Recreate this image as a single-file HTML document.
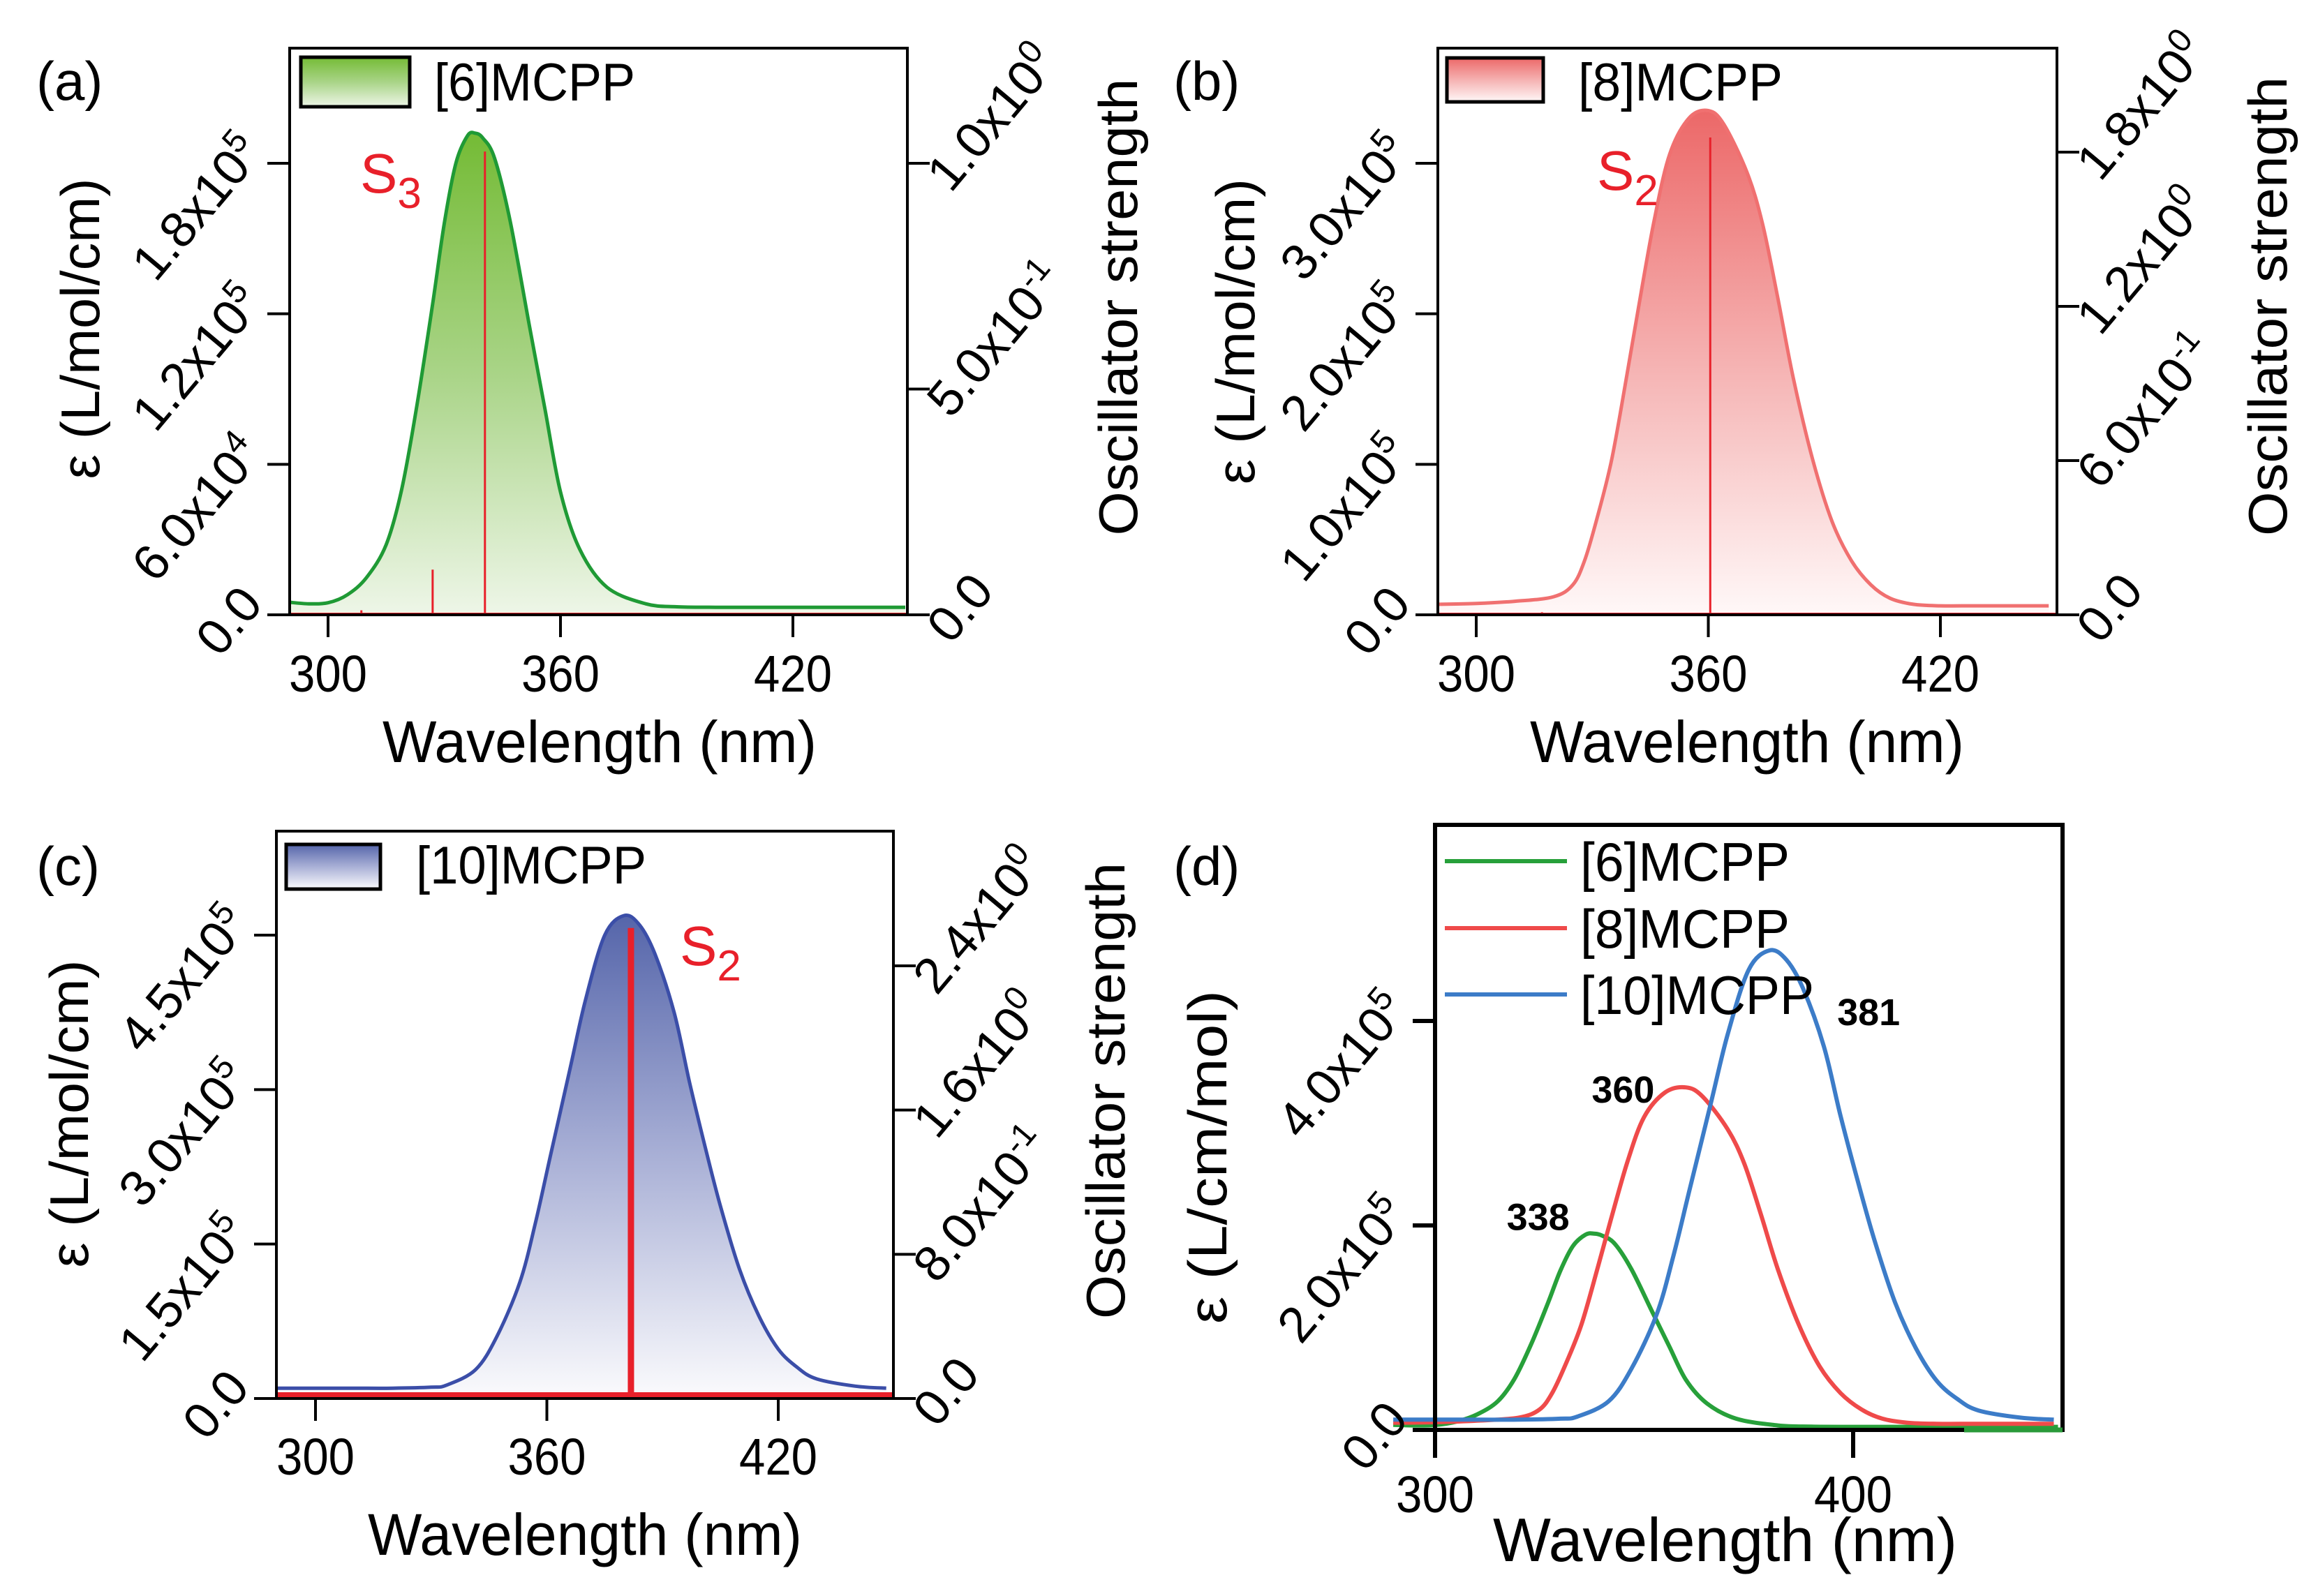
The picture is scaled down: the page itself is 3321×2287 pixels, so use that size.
<!DOCTYPE html>
<html><head><meta charset="utf-8"><title>MCPP absorption spectra</title>
<style>
html,body{margin:0;padding:0;background:#fff;}
svg{display:block;font-family:"Liberation Sans",Arial,sans-serif;}
</style></head>
<body>
<svg id="fig" width="3321" height="2287" viewBox="0 0 3321 2287" xmlns="http://www.w3.org/2000/svg">
<defs>
<linearGradient id="gGreen" x1="0" y1="0" x2="0" y2="1"><stop offset="0" stop-color="#74bb35"/><stop offset="0.5" stop-color="#a9d487"/><stop offset="1" stop-color="#eef6e8"/></linearGradient>
<linearGradient id="gRed" x1="0" y1="0" x2="0" y2="1"><stop offset="0" stop-color="#ec6868"/><stop offset="0.55" stop-color="#f6b9b9"/><stop offset="1" stop-color="#fff8f8"/></linearGradient>
<linearGradient id="gBlue" x1="0" y1="0" x2="0" y2="1"><stop offset="0" stop-color="#5565aa"/><stop offset="0.5" stop-color="#a9b0d6"/><stop offset="1" stop-color="#fbfbfd"/></linearGradient>
</defs>
</svg>
<script>
// ---- data (wavelength nm, epsilon L/mol/cm) ----
const nm6 = [290,295,300,305,310,315,319,323,327,330,333,336,338,340,343,347,352,356,360,365,372,382,390,400,420,449];
const eps6 = [5000,4400,4800,8000,15000,28000,50000,84000,124000,156000,180000,191000,192000,190000,182000,157000,115000,82000,49000,26000,11000,4400,3200,3000,3000,3000];
const nm8 = [290,300,310,320,325,328,331,335,339,342,346,350,355,360,364,370,374,378,382,387,392,397,402,407,413,420,430,448];
const eps8 = [7000,7500,9000,12000,20000,36000,62000,103000,160000,205000,262000,306000,330000,335000,326000,294000,260000,210000,157000,103000,62000,36000,20000,11000,7000,6000,6000,6000];
const nm10 = [290,300,310,320,330,334,341.5,347,353,357,361,366,370,375,380,384,388,393,397,401,405,410,415,420,425,430,440,448];
const eps10 = [10000,10000,10000,10000,11000,13000,28000,60000,113000,170000,237000,320000,387000,450000,469000,460000,432000,375000,307000,245000,187000,125000,80000,48000,30000,19000,12000,10000];
// oscillator strengths (TD-DFT sticks)
const stickNm6 = [308.6,327,340.5];
const stickF6 = [0.01,0.10,1.026];
const stickNm8 = [317,360.5];
const stickF8 = [0.01,1.857];
const stickNm10 = [381.8];
const stickF10 = [2.61];
// ticks
const xTicksABC = [300,360,420];
const xTicksD = [300,400];
const yTicksA = [0,60000,120000,180000];
const yLabelsA = ["0.0","6.0x10|4","1.2x10|5","1.8x10|5"];
const rTicksA = [0,0.5,1.0];
const rLabelsA = ["0.0","5.0x10|-1","1.0x10|0"];
const yTicksB = [0,100000,200000,300000];
const yLabelsB = ["0.0","1.0x10|5","2.0x10|5","3.0x10|5"];
const rTicksB = [0,0.6,1.2,1.8];
const rLabelsB = ["0.0","6.0x10|-1","1.2x10|0","1.8x10|0"];
const yTicksC = [0,150000,300000,450000];
const yLabelsC = ["0.0","1.5x10|5","3.0x10|5","4.5x10|5"];
const rTicksC = [0,0.8,1.6,2.4];
const rLabelsC = ["0.0","8.0x10|-1","1.6x10|0","2.4x10|0"];
const yTicksD = [0,200000,400000];
const yLabelsD = ["0.0","2.0x10|5","4.0x10|5"];
const peakLabelsD = ["338","360","381"];

const NS = "http://www.w3.org/2000/svg";
const svg = document.getElementById("fig");
function el(tag, attrs, parent){
  const e = document.createElementNS(NS, tag);
  for (const k in attrs) e.setAttribute(k, attrs[k]);
  (parent||svg).appendChild(e);
  return e;
}
function lin(d0,d1,p0,p1){ return v => p0 + (v-d0)*(p1-p0)/(d1-d0); }
function smooth(P){
  let d = `M${P[0][0].toFixed(1)},${P[0][1].toFixed(1)}`;
  for (let i=0;i<P.length-1;i++){
    const p0=P[Math.max(0,i-1)], p1=P[i], p2=P[i+1], p3=P[Math.min(P.length-1,i+2)];
    const c1x=p1[0]+(p2[0]-p0[0])/6, c1y=p1[1]+(p2[1]-p0[1])/6;
    const c2x=p2[0]-(p3[0]-p1[0])/6, c2y=p2[1]-(p3[1]-p1[1])/6;
    d += ` C${c1x.toFixed(1)},${c1y.toFixed(1)} ${c2x.toFixed(1)},${c2y.toFixed(1)} ${p2[0].toFixed(1)},${p2[1].toFixed(1)}`;
  }
  return d;
}

function tickText(g, label, x, y, anchor, rot){
  const parts = label.split("|");
  const t = el("text", {x:x, y:y, "font-size":72, "text-anchor":anchor, transform:`rotate(${rot} ${x} ${y})`}, g);
  
  
  t.appendChild(document.createTextNode(parts[0]));
  if (parts.length > 1){
    const s = el("tspan", {"font-size":48, dy:-28}, t);
    s.textContent = parts[1];
  }
}

function panel(c){
  const g = el("g", {});
  
  
  const X = lin(300, c.x2v, c.x0p, c.x2p);
  const Y = lin(0, c.yTicks[c.yTicks.length-1], c.B, c.yTopP);
  c.series.forEach(s => {
    const P = s.nm.map((w,i)=> [X(w), Y(s.eps[i])]);
    const d = smooth(P);
    if (s.fill){
      const a = el("path", {d:`${d} L${X(s.nm[s.nm.length-1])},${c.B} L${X(s.nm[0])},${c.B} Z`, fill:s.fill, stroke:"none"}, g);
      
      
    }
    const p = el("path", {d:d, fill:"none", stroke:s.color, "stroke-width":c.lw||5, "stroke-linejoin":"round"}, g);
    
    
  });
  if (c.sticks){
    const R = lin(0, c.rTicks[c.rTicks.length-1], c.B, c.rTopP);
    const bl = el("line", {x1:c.L, x2:c.R, y1:c.B-c.stickW/2, y2:c.B-c.stickW/2, stroke:"#e8202a", "stroke-width":c.stickW}, g);
    
    
    c.sticks.nm.forEach((w,i)=>{
      const s = el("line", {x1:X(w), x2:X(w), y1:c.B, y2:R(c.sticks.f[i]), stroke:"#e8202a", "stroke-width":c.stickW}, g);
      
      
    });
    c.rTicks.forEach((v,i)=>{
      const y = R(v);
      const tk = el("line", {x1:c.R, x2:c.R+32, y1:y, y2:y, stroke:"#000", "stroke-width":4}, g);
      
      
      tickText(g, c.rLabels[i], c.R+62, y+44, "start", -50);
    });
  }
  const fw = c.fw || 4;
  const fr = el("rect", {x:c.L, y:c.T, width:c.R-c.L, height:c.B-c.T, fill:"none", stroke:"#000", "stroke-width":fw}, g);
  
  
  if (c.greenAxis){
    const ga = el("line", {x1:c.greenAxis, x2:c.R, y1:c.B, y2:c.B, stroke:"#2a9a3a", "stroke-width":fw+1}, g);
    
    
  }
  c.yTicks.forEach((v,i)=>{
    const y = Y(v);
    const tk = el("line", {x1:c.L-32, x2:c.L, y1:y, y2:y, stroke:"#000", "stroke-width":fw}, g);
    
    
    tickText(g, c.yLabels[i], c.L-36, y-14, "end", -50);
  });
  c.xTicks.forEach(v=>{
    const x = X(v);
    const tk = el("line", {x1:x, x2:x, y1:c.B, y2:c.B+c.xtl, stroke:"#000", "stroke-width":fw}, g);
    
    
    const t = el("text", {x:x, y:c.B+c.xlo, "font-size":74, "text-anchor":"middle", textLength:112, lengthAdjust:"spacingAndGlyphs"}, g);
    
    
    t.textContent = String(v);
  });
  return {g, X, Y};
}

function text(str, attrs, name){
  const t = el("text", attrs);
  
  
  t.textContent = str;
  return t;
}

panel({name:"panel-a", L:415, R:1300, T:69, B:881, x0p:470, x2v:420, x2p:1136, yTopP:234, rTopP:234,
  yTicks:yTicksA, yLabels:yLabelsA, rTicks:rTicksA, rLabels:rLabelsA, xTicks:xTicksABC, xtl:32, xlo:110,
  series:[{key:"mcpp6", nm:nm6, eps:eps6, color:"#1f9a35", fill:"url(#gGreen)"}],
  sticks:{nm:stickNm6, f:stickF6}, stickW:3});
panel({name:"panel-b", L:2060, R:2947, T:69, B:881, x0p:2115, x2v:420, x2p:2780, yTopP:234, rTopP:218,
  yTicks:yTicksB, yLabels:yLabelsB, rTicks:rTicksB, rLabels:rLabelsB, xTicks:xTicksABC, xtl:32, xlo:110,
  series:[{key:"mcpp8", nm:nm8, eps:eps8, color:"#f07070", fill:"url(#gRed)"}],
  sticks:{nm:stickNm8, f:stickF8}, stickW:3});
panel({name:"panel-c", L:396, R:1280, T:1191, B:2004, x0p:452, x2v:420, x2p:1115, yTopP:1340, rTopP:1384,
  yTicks:yTicksC, yLabels:yLabelsC, rTicks:rTicksC, rLabels:rLabelsC, xTicks:xTicksABC, xtl:32, xlo:109,
  series:[{key:"mcpp10", nm:nm10, eps:eps10, color:"#3b4ea8", fill:"url(#gBlue)"}],
  sticks:{nm:stickNm10, f:stickF10}, stickW:9});
const pd = panel({name:"panel-d", L:2056, R:2955, T:1182, B:2049, x0p:2056, x2v:400, x2p:2655, yTopP:1463,
  yTicks:yTicksD, yLabels:yLabelsD, xTicks:xTicksD, xtl:40, xlo:118, fw:6, lw:6, greenAxis:2814,
  series:[{key:"d-mcpp6", nm:nm6, eps:eps6, color:"#27a03a"},
          {key:"d-mcpp8", nm:nm8, eps:eps8, color:"#ef4a4a"},
          {key:"d-mcpp10", nm:nm10, eps:eps10, color:"#3c7cc8"}]});
const peakNm = [338,360,381];
const peakOff = [[-125,-5],[-135,22],[91,107]];
const peakSeries = [[nm6,eps6],[nm8,eps8],[nm10,eps10]];
peakLabelsD.forEach((lab,i)=>{
  const arr = peakSeries[i];
  const pk = Math.max(...arr[1]);
  const x = pd.X(peakNm[i]) + peakOff[i][0];
  const y = pd.Y(pk) + peakOff[i][1];
  text(lab, {x:x, y:y, "font-size":54, "font-weight":"bold", textLength:90, lengthAdjust:"spacingAndGlyphs"}, "peak-label-"+lab);
});

[[431,82,156,71,"url(#gGreen)",622,144,288,"[6]MCPP","legend-a"],
 [2073,83,138,63,"url(#gRed)",2261,144,293,"[8]MCPP","legend-b"],
 [410,1210,135,64,"url(#gBlue)",596,1266,330,"[10]MCPP","legend-c"]].forEach(l=>{
  const r = el("rect", {x:l[0], y:l[1], width:l[2], height:l[3], fill:l[4], stroke:"#000", "stroke-width":5});
  
  
  text(l[8], {x:l[5], y:l[6], "font-size":76, textLength:l[7], lengthAdjust:"spacingAndGlyphs"}, l[9]+'-text');
});
[["#27a03a",1234,"[6]MCPP",300],["#ef4a4a",1330,"[8]MCPP",300],["#3c7cc8",1425,"[10]MCPP",335]].forEach((l,i)=>{
  const ln = el("line", {x1:2070, x2:2245, y1:l[1], y2:l[1], stroke:l[0], "stroke-width":6});
  
  
  text(l[2], {x:2264, y:l[1]+28, "font-size":78, textLength:l[3], lengthAdjust:"spacingAndGlyphs"}, 'legend-d-text-'+i);
});

text("(a)", {x:52, y:143, "font-size":78}, "panel-label-a");
text("(b)", {x:1681, y:143, "font-size":78}, "panel-label-b");
text("(c)", {x:52, y:1268, "font-size":78}, "panel-label-c");
text("(d)", {x:1681, y:1268, "font-size":78}, "panel-label-d");

function stateLabel(x,y,sub,name){
  const t = el("text", {x:x, y:y, "font-size":80, fill:"#e8202a"});
  
  
  t.appendChild(document.createTextNode("S"));
  const s = el("tspan", {"font-size":62, dy:22}, t);
  s.textContent = sub;
}
stateLabel(516,276,"3","state-label-a");
stateLabel(2288,272,"2","state-label-b");
stateLabel(974,1383,"2","state-label-c");

function vtitle(str,cx,cy,len,name){
  text(str, {x:cx, y:cy, "font-size":78, "text-anchor":"middle", textLength:len, lengthAdjust:"spacingAndGlyphs",
    transform:`rotate(-90 ${cx} ${cy})`, dy:28}, name);
}
vtitle("ε (L/mol/cm)",114,471,431,"y-axis-title-a");
vtitle("ε (L/mol/cm)",1769,475,438,"y-axis-title-b");
vtitle("ε (L/mol/cm)",98,1596,441,"y-axis-title-c");
vtitle("ε (L/cm/mol)",1729,1658,478,"y-axis-title-d");
vtitle("Oscillator strength",1601,440,655,"right-axis-title-a");
vtitle("Oscillator strength",3248,439,658,"right-axis-title-b");
vtitle("Oscillator strength",1583,1563,654,"right-axis-title-c");
text("Wavelength (nm)", {x:548, y:1092, "font-size":84, textLength:622, lengthAdjust:"spacingAndGlyphs"}, "x-axis-title-a");
text("Wavelength (nm)", {x:2192, y:1092, "font-size":84, textLength:622, lengthAdjust:"spacingAndGlyphs"}, "x-axis-title-b");
text("Wavelength (nm)", {x:527, y:2228, "font-size":84, textLength:622, lengthAdjust:"spacingAndGlyphs"}, "x-axis-title-c");
text("Wavelength (nm)", {x:2139, y:2237, "font-size":88, textLength:665, lengthAdjust:"spacingAndGlyphs"}, "x-axis-title-d");
</script>
</body></html>
